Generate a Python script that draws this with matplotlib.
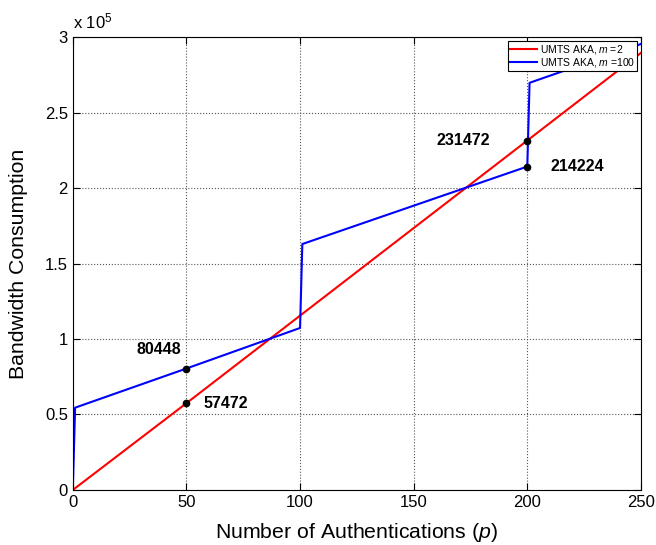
import matplotlib
matplotlib.use("Agg")
import matplotlib.pyplot as plt
from matplotlib.ticker import FuncFormatter, MultipleLocator

plt.rcParams['font.family'] = ['Liberation Sans', 'DejaVu Sans']
plt.rcParams['mathtext.fontset'] = 'custom'
plt.rcParams['mathtext.it'] = 'Liberation Sans:italic'
plt.rcParams['mathtext.rm'] = 'Liberation Sans'

# values
red_p = [0, 50, 200, 250]
red_v = [0, 57472, 231472, 289500]

blue_p = [0, 1, 50, 100, 101, 200, 201, 250]
blue_v = [0, 54500, 80448, 107300, 162900, 214224, 269700, 295400]

marked_p = [50, 50, 200, 200]
marked_v = [80448, 57472, 231472, 214224]

fig = plt.figure(figsize=(6.56, 5.45), dpi=100)
ax = fig.add_axes([0.111, 0.101, 0.866, 0.831])

ax.plot(red_p, red_v, color='#ff0000', lw=1.5, label=r'UMTS AKA, $m=2$')
ax.plot(blue_p, blue_v, color='#0000ff', lw=1.5, label=r'UMTS AKA, $m$ =100')
ax.plot(marked_p, marked_v, 'o', color='black', ms=4.5, zorder=5)

# labels next to the marked points (offsets in points)
offsets = [(-4, 8, 'right', 'bottom'), (12, 0, 'left', 'center'),
           (-27, 0, 'right', 'center'), (17, 0, 'left', 'center')]
for p, v, (dx, dy, ha, va) in zip(marked_p, marked_v, offsets):
    ax.annotate(str(v), (p, v), xytext=(dx, dy), textcoords='offset points',
                ha=ha, va=va, fontsize=11.5, fontweight='bold')

ax.set_xlim(0, 250)
ax.set_ylim(0, 300000)
ax.xaxis.set_major_locator(MultipleLocator(50))
ax.yaxis.set_major_locator(MultipleLocator(50000))
ax.yaxis.set_major_formatter(FuncFormatter(lambda y, pos: f'{y / 1e5:g}'))
ax.text(0.0, 1.012, r'x 10$^5$', transform=ax.transAxes, fontsize=12,
        ha='left', va='bottom')

ax.grid(True, linestyle=':', color='#555555', lw=0.8)
ax.tick_params(direction='in', top=True, right=True, labelsize=12, length=5, width=0.8)
for s in ax.spines.values():
    s.set_linewidth(0.8)

ax.set_xlabel(r'Number of Authentications ($p$)', fontsize=15.3, labelpad=8)
ax.set_ylabel('Bandwidth Consumption', fontsize=15.3, labelpad=12)

leg = ax.legend(loc='upper right', fontsize=7.5, fancybox=False, edgecolor='black',
                framealpha=1, handlelength=2.6, handletextpad=0.3, borderpad=0.2,
                labelspacing=0.05, borderaxespad=0.35)
leg.get_frame().set_linewidth(0.8)

fig.savefig('out.png', dpi=100)
